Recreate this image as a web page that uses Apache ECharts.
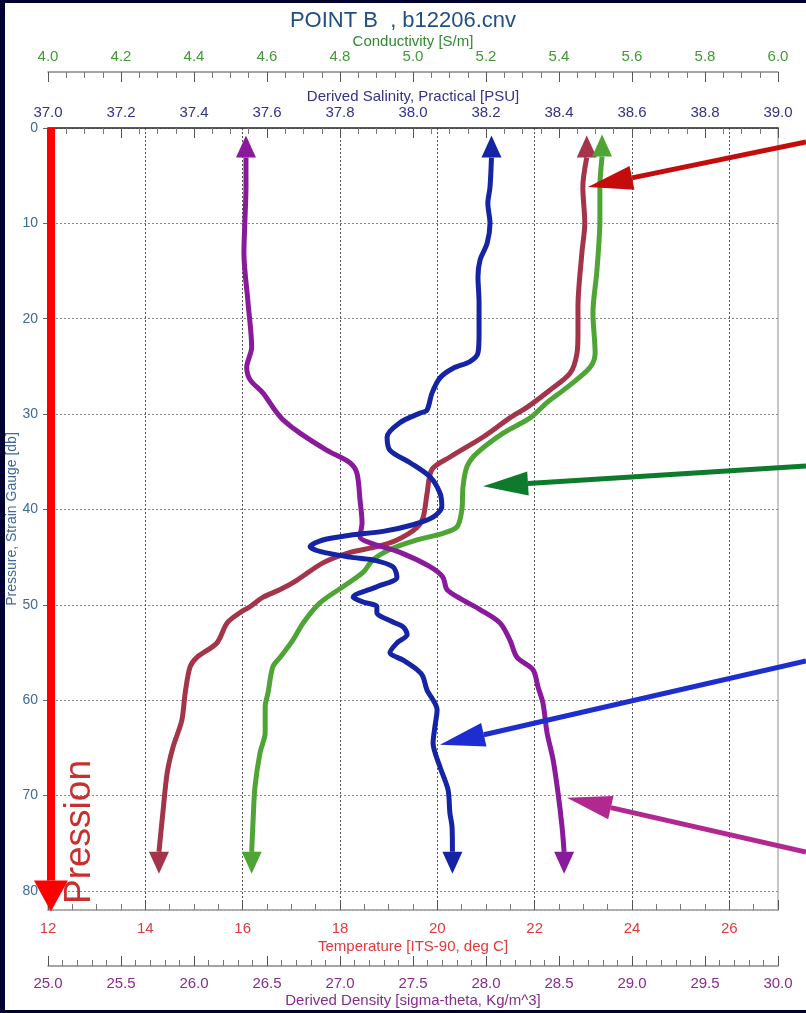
<!DOCTYPE html>
<html>
<head>
<meta charset="utf-8">
<script src="https://cdn.jsdelivr.net/npm/echarts@6.0.0/dist/echarts.min.js"></script>
<style>
  html, body { margin: 0; padding: 0; background: #000033; }
  #frame { position: absolute; left: 5px; top: 3px; width: 801px; height: 1007px; background: #fff; }
  #chart { position: absolute; left: 0; top: 0; width: 806px; height: 1013px; }
</style>
</head>
<body>
<div id="frame"></div>
<div id="chart"></div>
<script>
// profile data (pressure in db)
const tempPres = [3.1, 6.2, 10.0, 13.1, 18.8, 21.5, 23.6, 25.7, 27.5, 29.3, 30.4, 32.4, 34.5, 35.8, 38.3, 40.8, 41.9, 43.2, 43.9, 44.5, 45.6, 47.4, 48.4, 49.2, 50.2, 50.8, 51.9, 54.0, 55.5, 56.5, 59.2, 62.1, 64.9, 67.6, 71.8, 75.9]
const tempVals = [23.07, 22.99, 23.03, 22.97, 22.89, 22.89, 22.87, 22.73, 22.31, 21.84, 21.49, 20.94, 20.26, 19.89, 19.79, 19.71, 19.58, 19.17, 18.76, 18.21, 17.65, 17.12, 16.77, 16.42, 16.15, 15.95, 15.68, 15.47, 15.06, 14.92, 14.82, 14.75, 14.57, 14.45, 14.36, 14.28]

const condPres = [3.0, 6.2, 9.6, 14.9, 19.4, 23.6, 25.1, 27.2, 28.8, 30.4, 32.0, 34.1, 35.5, 37.6, 40.0, 41.8, 42.5, 43.2, 44.2, 45.3, 46.6, 48.1, 49.8, 51.9, 53.7, 55.5, 56.5, 59.2, 60.7, 63.4, 65.5, 69.1, 72.5, 75.9]
const condVals = [5.518, 5.512, 5.512, 5.504, 5.493, 5.499, 5.485, 5.422, 5.367, 5.321, 5.247, 5.175, 5.148, 5.137, 5.134, 5.121, 5.082, 5.011, 4.937, 4.890, 4.863, 4.808, 4.745, 4.699, 4.671, 4.636, 4.616, 4.603, 4.595, 4.595, 4.581, 4.567, 4.562, 4.558]

const salPres = [3.1, 6.2, 7.9, 10.0, 12.1, 13.8, 15.6, 18.3, 21.5, 23.6, 24.5, 25.2, 26.2, 27.8, 29.6, 29.9, 30.9, 32.4, 33.8, 35.1, 36.6, 38.3, 39.7, 40.8, 41.6, 42.3, 42.7, 43.2, 43.9, 44.4, 45.0, 45.3, 46.0, 47.1, 48.1, 49.2, 49.7, 50.2, 50.8, 51.8, 52.3, 53.1, 54.0, 55.0, 55.8, 56.8, 57.5, 58.9, 61.0, 62.8, 64.5, 67.0, 69.4, 71.8, 73.3, 75.9]
const salVals = [38.215, 38.211, 38.205, 38.211, 38.203, 38.184, 38.178, 38.181, 38.181, 38.178, 38.156, 38.110, 38.074, 38.052, 38.038, 38.019, 37.964, 37.929, 37.937, 37.992, 38.047, 38.074, 38.079, 38.055, 38.000, 37.918, 37.827, 37.753, 37.718, 37.745, 37.827, 37.890, 37.945, 37.956, 37.901, 37.836, 37.863, 37.901, 37.901, 37.945, 37.973, 37.984, 37.956, 37.937, 37.973, 38.011, 38.027, 38.038, 38.066, 38.060, 38.055, 38.074, 38.096, 38.101, 38.107, 38.108]

const densPres = [3.1, 6.2, 9.6, 13.1, 18.3, 23.0, 25.1, 26.4, 27.8, 29.6, 30.6, 32.0, 33.8, 35.1, 36.2, 39.0, 41.4, 42.9, 43.5, 44.5, 46.0, 47.1, 48.4, 49.5, 50.5, 51.9, 53.7, 55.5, 56.8, 58.6, 60.3, 63.4, 66.2, 69.7, 73.3, 75.9]
const densVals = [26.356, 26.356, 26.349, 26.342, 26.370, 26.395, 26.361, 26.384, 26.473, 26.555, 26.610, 26.726, 26.911, 27.068, 27.116, 27.137, 27.151, 27.137, 27.205, 27.411, 27.616, 27.705, 27.733, 27.842, 27.959, 28.096, 28.164, 28.212, 28.322, 28.356, 28.390, 28.418, 28.459, 28.493, 28.521, 28.535]

// axis ranges
const tempRange = [12, 27]
const condRange = [4, 6]
const salRange = [37, 39]
const densRange = [25, 30]
const presRange = [0, 82]

const FONT = 'Liberation Sans, Arial, sans-serif'

// line with an arrowhead on each end
const buildData = (vals, pres) => vals.map((v, i) => {
  if (i === 0) {
    return { value: [v, pres[i]], symbol: 'triangle', symbolSize: [20, 22], symbolOffset: [0, '-50%'] }
  }
  if (i === vals.length - 1) {
    return { value: [v, pres[i]], symbol: 'triangle', symbolSize: [20, 22], symbolRotate: 180, symbolOffset: [0, '50%'] }
  }
  return [v, pres[i]]
})

// straight annotation arrow coming in from the right edge
const pointer = (fromPx, toCoord, color, size) => [
  { x: fromPx[0], y: fromPx[1], symbol: 'none', lineStyle: { color, width: 5, type: 'solid' } },
  { coord: toCoord, symbol: 'triangle', symbolSize: size || [24, 45], symbolOffset: [0, '-50%'], lineStyle: { color, width: 5, type: 'solid' } },
]

const xAxisBase = (opt) => ({
  type: 'value',
  nameLocation: 'middle',
  nameMoveOverlap: false,
  axisLine: { show: true, onZero: false, lineStyle: { color: '#888', width: 1.5 } },
  axisTick: { show: true, inside: true, length: 10, lineStyle: { color: '#555' } },
  minorTick: { show: true, length: 6, lineStyle: { color: '#777' } },
  splitLine: { show: false },
  ...opt,
})

const chart = echarts.init(document.getElementById('chart'))

const option = {
  animation: false,
  textStyle: { fontFamily: FONT },
  title: {
    text: 'POINT B  , b12206.cnv',
    left: 'center',
    top: 5,
    textStyle: { color: '#1f5084', fontSize: 22, fontWeight: 'normal', fontFamily: FONT },
  },
  grid: {
    left: 48, right: 28, top: 128, bottom: 103,
    outerBoundsMode: 'none',
    containLabel: false,
    show: true, borderColor: '#c8c8c8', borderWidth: 2,
  },
  xAxis: [
    xAxisBase({
      position: 'bottom', offset: 0,
      min: tempRange[0], max: tempRange[1], interval: 2,
      name: 'Temperature [ITS-90, deg C]', nameGap: 29,
      nameTextStyle: { color: '#e03a3a', fontSize: 15, fontFamily: FONT },
      axisLine: { show: true, onZero: false, lineStyle: { color: '#aaa', width: 1.5 } },
      minorTick: { show: true, splitNumber: 4, length: 6, lineStyle: { color: '#777' } },
      axisLabel: { color: '#e03a3a', fontSize: 15, margin: 11, showMaxLabel: false },
      splitLine: { show: true, showMinLine: false, showMaxLine: false, lineStyle: { type: [2, 2], color: '#555', width: 1 } },
    }),
    xAxisBase({
      position: 'top', offset: 56,
      min: condRange[0], max: condRange[1], interval: 0.2,
      name: 'Conductivity [S/m]', nameGap: 23,
      nameTextStyle: { color: '#2f8a2f', fontSize: 15, fontFamily: FONT },
      minorTick: { show: true, splitNumber: 4, length: 6, lineStyle: { color: '#777' } },
      axisLabel: { color: '#3f9a34', fontSize: 15, margin: 8, formatter: (v) => v.toFixed(1) },
    }),
    xAxisBase({
      position: 'top', offset: 0,
      min: salRange[0], max: salRange[1], interval: 0.2,
      name: 'Derived Salinity, Practical [PSU]', nameGap: 24,
      nameTextStyle: { color: '#33338a', fontSize: 15, fontFamily: FONT },
      axisLine: { show: true, onZero: false, lineStyle: { color: '#333', width: 1.5 } },
      minorTick: { show: true, splitNumber: 4, length: 6, lineStyle: { color: '#777' } },
      axisLabel: { color: '#33338a', fontSize: 15, margin: 8, formatter: (v) => v.toFixed(1) },
    }),
    xAxisBase({
      position: 'bottom', offset: 56,
      min: densRange[0], max: densRange[1], interval: 0.5,
      name: 'Derived Density [sigma-theta, Kg/m^3]', nameGap: 27,
      nameTextStyle: { color: '#8b2b8f', fontSize: 15, fontFamily: FONT },
      minorTick: { show: true, splitNumber: 5, length: 6, lineStyle: { color: '#777' } },
      axisLabel: { color: '#8b2b8f', fontSize: 15, margin: 10, formatter: (v) => v.toFixed(1) },
    }),
  ],
  yAxis: {
    type: 'value',
    inverse: true,
    min: presRange[0], max: presRange[1], interval: 10,
    name: 'Pressure, Strain Gauge [db]',
    nameLocation: 'middle', nameGap: 29, nameMoveOverlap: false,
    nameTextStyle: { color: '#3f6a96', fontSize: 14, fontFamily: FONT },
    axisLine: { show: true, onZero: false, lineStyle: { color: '#999' } },
    axisTick: { show: true, length: 5, lineStyle: { color: '#666' } },
    axisLabel: { color: '#3f6a96', fontSize: 14, margin: 10, showMaxLabel: false },
    splitLine: { show: true, lineStyle: { type: [2, 2], color: '#888' } },
  },
  graphic: [
    {
      type: 'text', x: 80, y: 832, rotation: Math.PI / 2, z: 10,
      style: { text: 'Pression', fontSize: 37, fontFamily: FONT, fill: '#c83030', align: 'center', verticalAlign: 'middle' },
    },
  ],
  series: [
    {
      name: 'Temperature', type: 'line', xAxisIndex: 0, yAxisIndex: 0,
      data: buildData(tempVals, tempPres),
      smooth: 0.3, symbol: 'none', showSymbol: true, clip: false,
      lineStyle: { color: '#a3344a', width: 5 }, itemStyle: { color: '#a3344a' },
      markLine: {
        silent: true, animation: false, label: { show: false },
        data: [
          [
            { coord: [12.06, 0], symbol: 'none', lineStyle: { color: '#ff0000', width: 8, type: 'solid' } },
            { coord: [12.06, 78.9], symbol: 'triangle', symbolSize: [34, 31], symbolOffset: [0, '-50%'], lineStyle: { color: '#ff0000', width: 8, type: 'solid' } },
          ],
          pointer([806, 142], [24.0, 5.23], '#c40c0c'),
        ],
      },
    },
    {
      name: 'Conductivity', type: 'line', xAxisIndex: 1, yAxisIndex: 0,
      data: buildData(condVals, condPres),
      smooth: 0.3, symbol: 'none', showSymbol: true, clip: false,
      lineStyle: { color: '#4ea535', width: 5 }, itemStyle: { color: '#4ea535' },
      markLine: {
        silent: true, animation: false, label: { show: false },
        data: [pointer([806, 466], [5.315, 37.28], '#0e7a2c')],
      },
    },
    {
      name: 'Density', type: 'line', xAxisIndex: 3, yAxisIndex: 0,
      data: buildData(densVals, densPres),
      smooth: 0.3, symbol: 'none', showSymbol: true, clip: false,
      lineStyle: { color: '#8a1a9c', width: 5 }, itemStyle: { color: '#8a1a9c' },
      markLine: {
        silent: true, animation: false, label: { show: false },
        data: [pointer([806, 852], [28.855, 71.27], '#b02890')],
      },
    },
    {
      name: 'Salinity', type: 'line', xAxisIndex: 2, yAxisIndex: 0,
      data: buildData(salVals, salPres),
      smooth: 0.3, symbol: 'none', showSymbol: true, clip: false,
      lineStyle: { color: '#1424a5', width: 5 }, itemStyle: { color: '#1424a5' },
      markLine: {
        silent: true, animation: false, label: { show: false },
        data: [pointer([806, 661], [38.194, 63.62], '#1c2ecf')],
      },
    },
  ],
}

chart.setOption(option)
window.addEventListener('resize', () => chart.resize())
</script>
</body>
</html>
